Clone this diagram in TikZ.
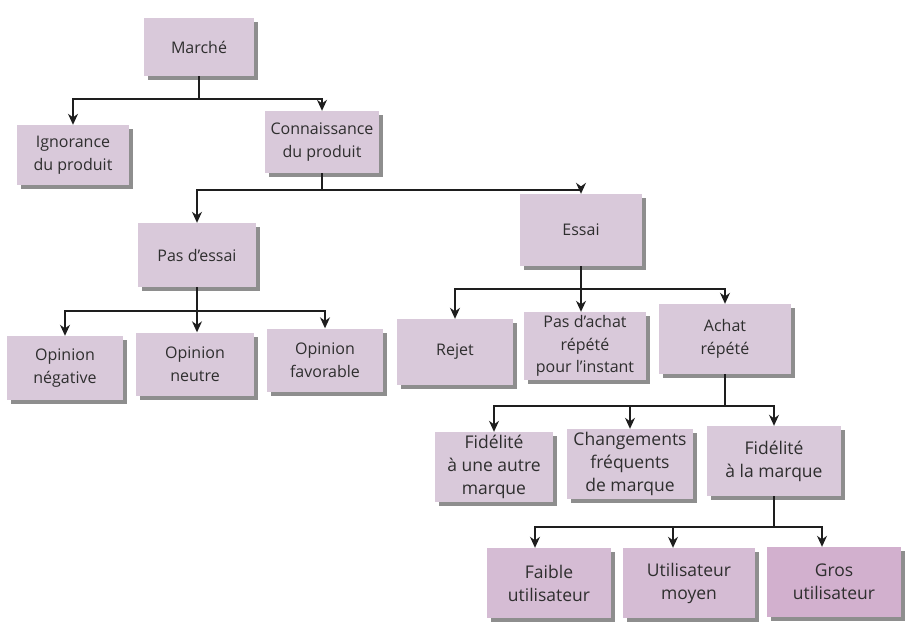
\documentclass[tikz,border=0pt]{standalone}
\usepackage{fontspec}
\setmainfont{Open Sans}
\usetikzlibrary{arrows.meta,shadows}
\definecolor{boxfill}{HTML}{D9C9DA}
\definecolor{boxfillb}{HTML}{D5BCD4}
\definecolor{boxfillc}{HTML}{D2B0CE}
\definecolor{shadowgray}{HTML}{8E8E8E}
\definecolor{txt}{HTML}{2E2E2E}
\definecolor{linec}{HTML}{1E1E1E}
\tikzset{
  box/.style={fill=boxfill, inner sep=0pt, align=center, text=txt,
    font=\fontsize{16}{22.5}\selectfont,
    drop shadow={shadow xshift=4pt, shadow yshift=-4pt, fill=shadowgray, opacity=1}},
  bigbox/.style={box, font=\fontsize{17.5}{23}\selectfont},
  conn/.style={draw=linec, line width=1.4pt},
  arr/.style={conn, -{Stealth[length=11pt, width=10pt]}}
}
\begin{document}
\begin{tikzpicture}[x=1pt,y=-1pt]
\useasboundingbox (0,0) rectangle (907,626);
% level 0-1
\node[box, minimum width=110pt, minimum height=58pt] (marche) at (199,47) {Marché};
\node[box, minimum width=112pt, minimum height=60pt] (ignorance) at (73,155) {Ignorance\\du produit};
\node[box, minimum width=114pt, minimum height=62pt] (connaissance) at (322,142) {Connaissance\\du produit};
% level 2
\node[box, minimum width=118pt, minimum height=64pt] (pasessai) at (197,255) {Pas d'essai};
\node[box, minimum width=122pt, minimum height=72pt] (essai) at (581,230) {Essai};
% level 3
\node[box, minimum width=116pt, minimum height=64pt] (opneg) at (65,368) {Opinion\\négative};
\node[box, minimum width=118pt, minimum height=63pt] (opneu) at (195,364) {Opinion\\neutre};
\node[box, minimum width=116pt, minimum height=63pt] (opfav) at (325,360) {Opinion\\favorable};
\node[box, minimum width=116pt, minimum height=66pt] (rejet) at (455,352) {Rejet};
\node[box, minimum width=122pt, minimum height=68pt] (pasachat) at (585,346) {Pas d'achat\\répété\\pour l'instant};
\node[box, minimum width=132pt, minimum height=70pt] (achat) at (725,339) {Achat\\répété};
% level 4
\node[bigbox, minimum width=118pt, minimum height=70pt] (fida) at (494,467) {Fidélité\\à une autre\\marque};
\node[bigbox, minimum width=126pt, minimum height=70pt] (chg) at (630,464) {Changements\\fréquents\\de marque};
\node[bigbox, minimum width=134pt, minimum height=70pt] (fidm) at (774,461) {Fidélité\\à la marque};
% level 5
\node[bigbox, fill=boxfillb, minimum width=124pt, minimum height=70pt] (faible) at (549,583) {Faible\\utilisateur};
\node[bigbox, fill=boxfillb, minimum width=132pt, minimum height=70pt] (moyen) at (689,583) {Utilisateur\\moyen};
\node[bigbox, fill=boxfillc, minimum width=134pt, minimum height=70pt] (gros) at (834,582) {Gros\\utilisateur};
% bus levels
\coordinate (b1) at (0,99);
\coordinate (b2) at (0,190);
\coordinate (b3) at (0,311);
\coordinate (b4) at (0,289);
\coordinate (b5) at (0,406);
\coordinate (b6) at (0,527);
\coordinate (fa) at ([xshift=-14pt]faible.north);
\coordinate (ma) at ([xshift=-16pt]moyen.north);
\coordinate (ga) at ([xshift=-12pt]gros.north);
% connectors
\draw[arr] (marche.south) -- (marche.south |- b1) -| (ignorance.north);
\draw[arr] (marche.south) -- (marche.south |- b1) -| (connaissance.north);
\draw[arr] (connaissance.south) -- (connaissance.south |- b2) -| (pasessai.north);
\draw[arr] (connaissance.south) -- (connaissance.south |- b2) -| (essai.north);
\draw[arr] (pasessai.south) -- (pasessai.south |- b3) -| (opneg.north);
\draw[arr] (pasessai.south) -- (pasessai.south |- opneu.north);
\draw[arr] (pasessai.south) -- (pasessai.south |- b3) -| (opfav.north);
\draw[arr] (essai.south) -- (essai.south |- b4) -| (rejet.north);
\draw[arr] (essai.south) -- (essai.south |- pasachat.north);
\draw[arr] (essai.south) -- (essai.south |- b4) -| (achat.north);
\draw[arr] (achat.south) -- (achat.south |- b5) -| (fida.north);
\draw[arr] (achat.south) -- (achat.south |- b5) -| (chg.north);
\draw[arr] (achat.south) -- (achat.south |- b5) -| (fidm.north);
\draw[arr] (fidm.south) -- (fidm.south |- b6) -| (fa);
\draw[arr] (fidm.south) -- (fidm.south |- b6) -| (ma);
\draw[arr] (fidm.south) -- (fidm.south |- b6) -| (ga);
\end{tikzpicture}
\end{document}
